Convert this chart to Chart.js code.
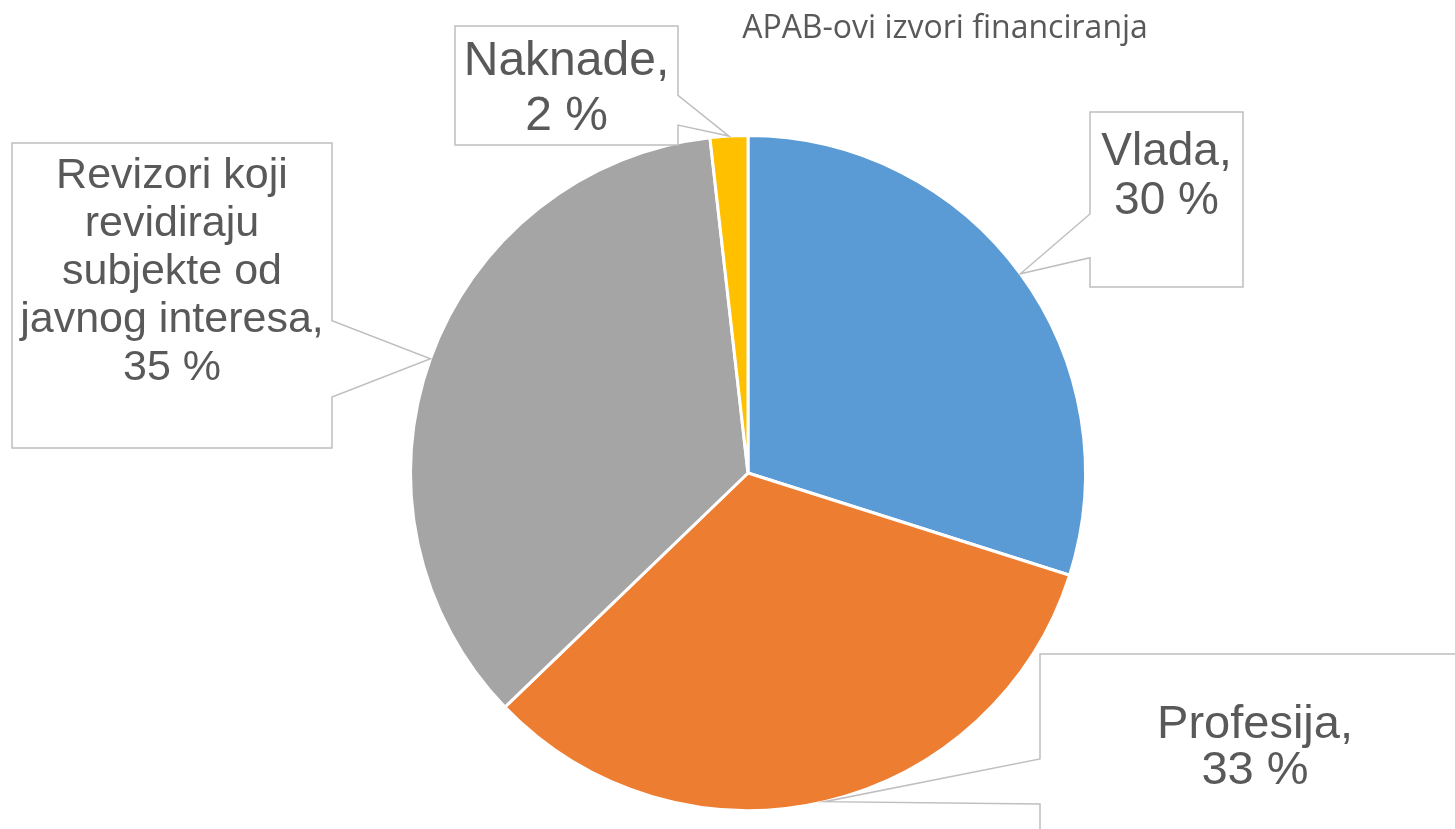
<!DOCTYPE html>
<html>
<head>
<meta charset="utf-8">
<script src="https://cdn.jsdelivr.net/npm/chart.js@4/dist/chart.umd.min.js"></script>
<style>
  html, body { margin: 0; padding: 0; background: #fff; }
  #wrap { position: relative; width: 1455px; height: 829px; }
</style>
</head>
<body>
<div id="wrap"><canvas id="pieChart" width="1455" height="829"></canvas></div>
<script>
// Data
const chartTitle = "APAB-ovi izvori financiranja";
const categories = ["Vlada", "Profesija", "Revizori koji revidiraju subjekte od javnog interesa", "Naknade"];
const shares = [29.9, 32.9, 35.4, 1.8];
const sliceColors = ["#5B9BD5", "#ED7D31", "#A5A5A5", "#FFC000"];

// Label text split in lines as in the original callouts
const labelLines = [
  ["Vlada,"],
  ["Profesija,"],
  ["Revizori koji", "revidiraju", "subjekte od", "javnog interesa,"],
  ["Naknade,"]
];

// Callout boxes: [x, y, width, height, first baseline offset, font size, line gap]
const calloutBoxes = [
  [1090, 112, 153, 175, 53, 46, 49],
  [1040, 654, 430, 180, 84, 47, 46],
  [12, 143, 320, 305, 45, 43, 48],
  [455, 26, 223, 119, 49, 48, 55]
];

const calloutPlugin = {
  id: "callouts",
  afterDatasetsDraw(chart) {
    const ctx = chart.ctx;
    const meta = chart.getDatasetMeta(0);
    const total = shares.reduce((a, b) => a + b, 0);

    meta.data.forEach((arc, i) => {
      const p = arc.getProps(["x", "y", "startAngle", "endAngle", "outerRadius"], true);
      const mid = (p.startAngle + p.endAngle) / 2;
      const tipX = p.x + Math.cos(mid) * p.outerRadius;
      const tipY = p.y + Math.sin(mid) * p.outerRadius;

      const [bx, by, bw, bh, baseOff, fontSize, gap] = calloutBoxes[i];
      const b1 = by + bh * 0.583;
      const b2 = by + bh * 0.833;

      ctx.save();
      ctx.beginPath();
      if (tipX < bx) {
        // pointer on left side
        ctx.moveTo(bx, by);
        ctx.lineTo(bx + bw, by);
        ctx.lineTo(bx + bw, by + bh);
        ctx.lineTo(bx, by + bh);
        ctx.lineTo(bx, b2);
        ctx.lineTo(tipX, tipY);
        ctx.lineTo(bx, b1);
        ctx.closePath();
      } else {
        // pointer on right side
        ctx.moveTo(bx, by);
        ctx.lineTo(bx + bw, by);
        ctx.lineTo(bx + bw, b1);
        ctx.lineTo(tipX, tipY);
        ctx.lineTo(bx + bw, b2);
        ctx.lineTo(bx + bw, by + bh);
        ctx.lineTo(bx, by + bh);
        ctx.closePath();
      }
      ctx.fillStyle = "#ffffff";
      ctx.fill();
      ctx.strokeStyle = "#BFBFBF";
      ctx.lineWidth = 1.5;
      ctx.stroke();

      // text
      const pct = Math.round(shares[i] / total * 100) + " %";
      const lines = labelLines[i].concat([pct]);
      ctx.fillStyle = "#595959";
      ctx.font = fontSize + "px 'Liberation Sans', Arial, sans-serif";
      ctx.textAlign = "center";
      ctx.textBaseline = "alphabetic";
      const cx = bx + bw / 2;
      lines.forEach((ln, k) => {
        ctx.fillText(ln, cx, by + baseOff + k * gap);
      });
      ctx.restore();
    });

    // title
    ctx.save();
    ctx.fillStyle = "#595959";
    ctx.font = "32px 'Open Sans', sans-serif";
    ctx.textAlign = "center";
    ctx.textBaseline = "alphabetic";
    ctx.fillText(chartTitle, 945, 38);
    ctx.restore();
  }
};

new Chart(document.getElementById("pieChart"), {
  type: "pie",
  data: {
    labels: categories,
    datasets: [
      {
        data: shares,
        backgroundColor: sliceColors,
        borderColor: "#ffffff",
        borderWidth: 3,
      },
    ],
  },
  options: {
    responsive: false,
    animation: false,
    layout: {
      padding: { top: 134, bottom: 17, left: 409, right: 368 },
    },
    plugins: {
      legend: { display: false },
      tooltip: { enabled: false },
      title: { display: false },
    },
  },
  plugins: [calloutPlugin],
});
</script>
</body>
</html>
